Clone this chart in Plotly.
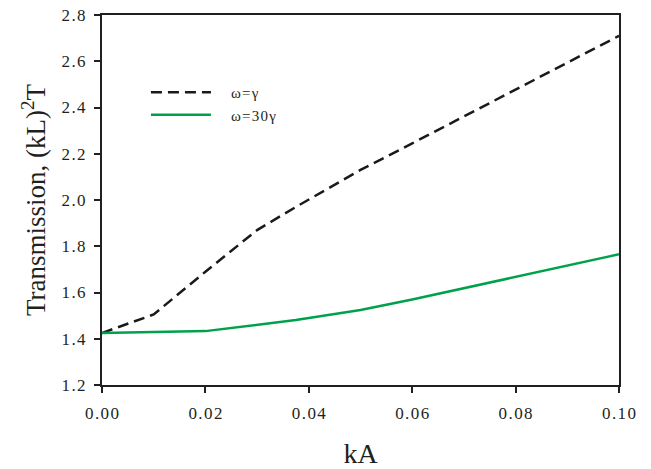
import plotly.graph_objects as go

kA_dash = [0.0, 0.01, 0.02, 0.03, 0.0375, 0.05, 0.06, 0.08, 0.10]
T_dash = [1.425, 1.505, 1.69, 1.87, 1.97, 2.13, 2.245, 2.478, 2.71]

kA_green = [0.0, 0.02, 0.0375, 0.05, 0.06, 0.08, 0.10]
T_green = [1.425, 1.433, 1.481, 1.524, 1.57, 1.668, 1.765]

names = ["ω\u200a=\u200aγ", "ω\u200a=\u200a3\u200a0\u200aγ"]

x_ticks = [0, 0.02, 0.04, 0.06, 0.08, 0.10]
x_ticktext = ["0.00", "0.02", "0.04", "0.06", "0.08", "0.10"]
y_ticks = [1.2, 1.4, 1.6, 1.8, 2.0, 2.2, 2.4, 2.6, 2.8]
y_ticktext = ["1.2", "1.4", "1.6", "1.8", "2.0", "2.2", "2.4", "2.6", "2.8"]

HS = "\u200a"
def spaced(s):
    return HS.join(list(s))

fig = go.Figure()
fig.add_trace(go.Scatter(x=kA_dash, y=T_dash, mode="lines",
                         name="\u2002\u2002" + names[0],
                         line=dict(color="#1a1a1a", width=2.5, dash="11px,6px")))
fig.add_trace(go.Scatter(x=kA_green, y=T_green, mode="lines",
                         name="\u2002\u2002" + names[1],
                         line=dict(color="#00a14b", width=2.5)))

serif = "Liberation Serif, Times New Roman, serif"
ink = "#231f20"
fig.update_layout(
    width=651, height=469,
    margin=dict(l=102, r=32, t=15, b=84),
    paper_bgcolor="white", plot_bgcolor="white",
    font=dict(family=serif, color=ink),
    showlegend=True,
    legend=dict(x=0.085, y=0.835, xanchor="left", yanchor="top",
                bgcolor="rgba(0,0,0,0)", font=dict(size=15, family=serif, color=ink),
                tracegroupgap=0, itemwidth=60),
    xaxis=dict(range=[0, 0.1], tickvals=x_ticks, automargin=False,
               ticktext=[spaced(t) for t in x_ticktext],
               ticks="outside", ticklen=6, tickwidth=2, ticklabelstandoff=6,
               ticklabeloverflow="allow",
               tickcolor=ink, showline=True, linecolor=ink,
               linewidth=2, mirror=True, showgrid=False, zeroline=False,
               tickfont=dict(size=17, color=ink),
               title=dict(text="kA", font=dict(size=28, color=ink), standoff=23)),
    yaxis=dict(range=[1.2, 2.8], tickvals=y_ticks, automargin=False,
               ticktext=[spaced(t) for t in y_ticktext],
               ticks="outside", ticklen=6, tickwidth=2, tickcolor=ink,
               ticklabelstandoff=5, ticklabeloverflow="allow",
               showline=True, linecolor=ink, linewidth=2, mirror=True,
               showgrid=False, zeroline=False, tickfont=dict(size=17, color=ink),
               title=dict(text="Transmission, (kL)<sup>2</sup>T",
                          font=dict(size=27, color=ink), standoff=8)),
)
fig.write_html("out.html", config={"displayModeBar": False},
               post_script="document.body.style.margin='0';")
